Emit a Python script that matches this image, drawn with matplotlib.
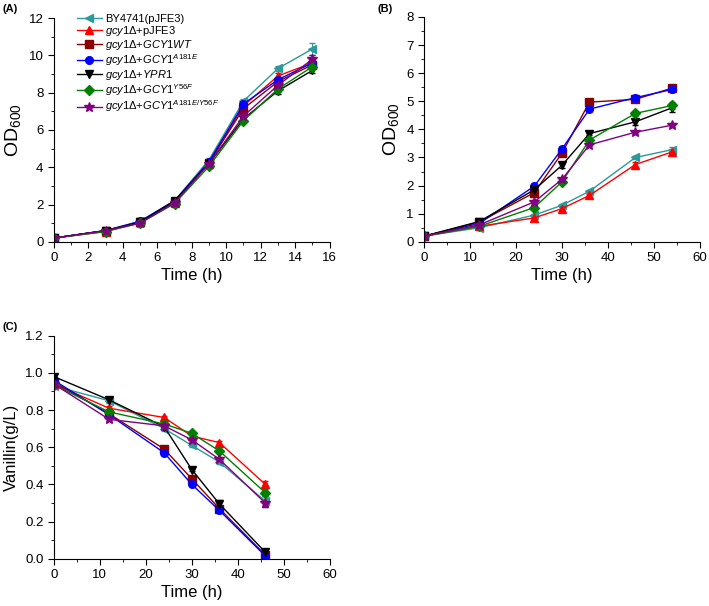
import matplotlib
matplotlib.use('Agg')
import matplotlib.pyplot as plt
from matplotlib.ticker import MultipleLocator, FormatStrFormatter
from matplotlib.lines import Line2D

plt.rcParams['font.family'] = ['Liberation Sans', 'DejaVu Sans']
plt.rcParams['mathtext.fontset'] = 'custom'
plt.rcParams['mathtext.rm'] = 'Liberation Sans'
plt.rcParams['mathtext.it'] = 'Liberation Sans:italic'

# strain labels, colours and markers
labels = [
    'BY4741(pJFE3)',
    r'$\mathit{gcy1Δ}$+pJFE3',
    r'$\mathit{gcy1Δ}$+$\mathit{GCY1WT}$',
    r'$\mathit{gcy1Δ}$+$\mathit{GCY1}^{\mathit{A181E}}$',
    r'$\mathit{gcy1Δ}$+$\mathit{YPR1}$',
    r'$\mathit{gcy1Δ}$+$\mathit{GCY1}^{\mathit{Y56F}}$',
    r'$\mathit{gcy1Δ}$+$\mathit{GCY1}^{\mathit{A181E/Y56F}}$',
]
colors = ['#2a9a9a', '#ff0000', '#8b0000', '#0000ff', '#000000', '#008000', '#800080']
markers = ['<', '^', 's', 'o', 'v', 'D', '*']

# (A) growth, short time course
time_a = [0, 3, 5, 7, 9, 11, 13, 15]
od_a = [
    [0.2, 0.6, 1.1, 2.2, 4.4, 7.55, 9.3, 10.35],
    [0.2, 0.55, 1.05, 2.1, 4.2, 7.3, 8.9, 9.6],
    [0.2, 0.6, 1.05, 2.15, 4.25, 7.15, 8.6, 9.5],
    [0.2, 0.6, 1.1, 2.2, 4.3, 7.4, 8.7, 9.6],
    [0.2, 0.6, 1.05, 2.2, 4.2, 6.6, 8.1, 9.2],
    [0.2, 0.55, 1.0, 2.05, 4.05, 6.5, 8.2, 9.4],
    [0.2, 0.6, 1.0, 2.1, 4.2, 6.75, 8.4, 9.8],
]
err_a = [
    [0.05, 0.05, 0.05, 0.08, 0.1, 0.12, 0.15, 0.3],
    [0.05, 0.05, 0.05, 0.05, 0.1, 0.1, 0.15, 0.2],
    [0.05, 0.05, 0.05, 0.05, 0.1, 0.1, 0.15, 0.2],
    [0.05, 0.05, 0.05, 0.05, 0.1, 0.1, 0.15, 0.2],
    [0.05, 0.05, 0.05, 0.05, 0.1, 0.1, 0.15, 0.15],
    [0.05, 0.05, 0.05, 0.05, 0.1, 0.1, 0.15, 0.15],
    [0.05, 0.05, 0.05, 0.05, 0.1, 0.1, 0.15, 0.2],
]

# (B) growth, long time course
time_b = [0, 12, 24, 30, 36, 46, 54]
od_b = [
    [0.2, 0.5, 0.95, 1.3, 1.8, 3.0, 3.28],
    [0.2, 0.55, 0.85, 1.18, 1.65, 2.75, 3.2],
    [0.2, 0.7, 1.75, 3.15, 4.97, 5.07, 5.47],
    [0.2, 0.65, 1.98, 3.3, 4.72, 5.13, 5.42],
    [0.2, 0.72, 1.85, 2.72, 3.85, 4.27, 4.77],
    [0.2, 0.55, 1.22, 2.13, 3.62, 4.57, 4.85],
    [0.2, 0.6, 1.42, 2.22, 3.45, 3.9, 4.15],
]
err_b = [
    [0.03, 0.03, 0.05, 0.05, 0.05, 0.05, 0.08],
    [0.03, 0.03, 0.05, 0.05, 0.05, 0.08, 0.05],
    [0.03, 0.03, 0.08, 0.08, 0.05, 0.05, 0.08],
    [0.03, 0.03, 0.08, 0.08, 0.05, 0.05, 0.08],
    [0.03, 0.03, 0.05, 0.08, 0.05, 0.1, 0.15],
    [0.03, 0.03, 0.05, 0.05, 0.1, 0.08, 0.12],
    [0.03, 0.03, 0.05, 0.05, 0.05, 0.05, 0.08],
]

# (C) vanillin consumption
time_c = [0, 12, 24, 30, 36, 46]
van_c = [
    [0.93, 0.85, 0.70, 0.61, 0.52, 0.31],
    [0.94, 0.81, 0.76, 0.66, 0.625, 0.40],
    [0.95, 0.78, 0.59, 0.43, 0.27, 0.02],
    [0.96, 0.775, 0.57, 0.40, 0.26, 0.015],
    [0.98, 0.855, 0.71, 0.48, 0.295, 0.035],
    [0.935, 0.79, 0.725, 0.675, 0.58, 0.355],
    [0.94, 0.75, 0.715, 0.64, 0.535, 0.30],
]
err_c = [
    [0.01, 0.01, 0.01, 0.01, 0.01, 0.03],
    [0.01, 0.01, 0.01, 0.01, 0.01, 0.02],
    [0.01, 0.01, 0.01, 0.01, 0.01, 0.01],
    [0.01, 0.01, 0.01, 0.01, 0.01, 0.01],
    [0.01, 0.01, 0.01, 0.01, 0.02, 0.01],
    [0.01, 0.01, 0.01, 0.01, 0.01, 0.02],
    [0.01, 0.01, 0.01, 0.01, 0.01, 0.02],
]


def msize(m):
    return 7.5 if m == '*' else 5.5


def draw(ax, t, series, errs):
    for y, e, c, m in zip(series, errs, colors, markers):
        ax.errorbar(t, y, yerr=e, color=c, marker=m, ms=msize(m), lw=1,
                    elinewidth=0.8, capsize=2)


def style(ax, xmax, xmaj, xmin, ymax, ymaj, ymin):
    ax.set_xlim(0, xmax)
    ax.set_ylim(0, ymax)
    ax.xaxis.set_major_locator(MultipleLocator(xmaj))
    ax.xaxis.set_minor_locator(MultipleLocator(xmin))
    ax.yaxis.set_major_locator(MultipleLocator(ymaj))
    ax.yaxis.set_minor_locator(MultipleLocator(ymin))
    ax.spines['top'].set_visible(False)
    ax.spines['right'].set_visible(False)
    ax.tick_params(which='major', direction='out', length=4, labelsize=9.5)
    ax.tick_params(which='minor', direction='out', length=2)
    ax.set_xlabel('Time (h)', fontsize=12, labelpad=3)


fig = plt.figure(figsize=(7.09, 6.06), dpi=100)
ax_a = fig.add_axes([0.076, 0.601, 0.389, 0.369])
ax_b = fig.add_axes([0.598, 0.601, 0.389, 0.371])
ax_c = fig.add_axes([0.076, 0.078, 0.389, 0.368])

draw(ax_a, time_a, od_a, err_a)
style(ax_a, 16, 2, 1, 12, 2, 1)
ax_a.set_ylabel('OD$_{600}$', fontsize=14, labelpad=4)
handles = [Line2D([], [], color=c, marker=m, ms=msize(m), lw=1)
           for c, m in zip(colors, markers)]
ax_a.legend(handles, labels, loc='upper left', bbox_to_anchor=(0.06, 1.05),
            frameon=False, fontsize=8, handlelength=2.2, handletextpad=0.3,
            labelspacing=0.02, borderaxespad=0.2)

draw(ax_b, time_b, od_b, err_b)
style(ax_b, 60, 10, 5, 8, 1, 0.5)
ax_b.set_ylabel('OD$_{600}$', fontsize=14, labelpad=4)

draw(ax_c, time_c, van_c, err_c)
style(ax_c, 60, 10, 5, 1.2, 0.2, 0.1)
ax_c.yaxis.set_major_formatter(FormatStrFormatter('%.1f'))
ax_c.set_ylabel('Vanillin(g/L)', fontsize=12, labelpad=4)

fig.text(0.004, 0.985, '(A)', fontsize=8, fontweight='bold', va='center')
fig.text(0.532, 0.985, '(B)', fontsize=8, fontweight='bold', va='center')
fig.text(0.004, 0.46, '(C)', fontsize=8, fontweight='bold', va='center')

fig.savefig('out.png', dpi=100)
